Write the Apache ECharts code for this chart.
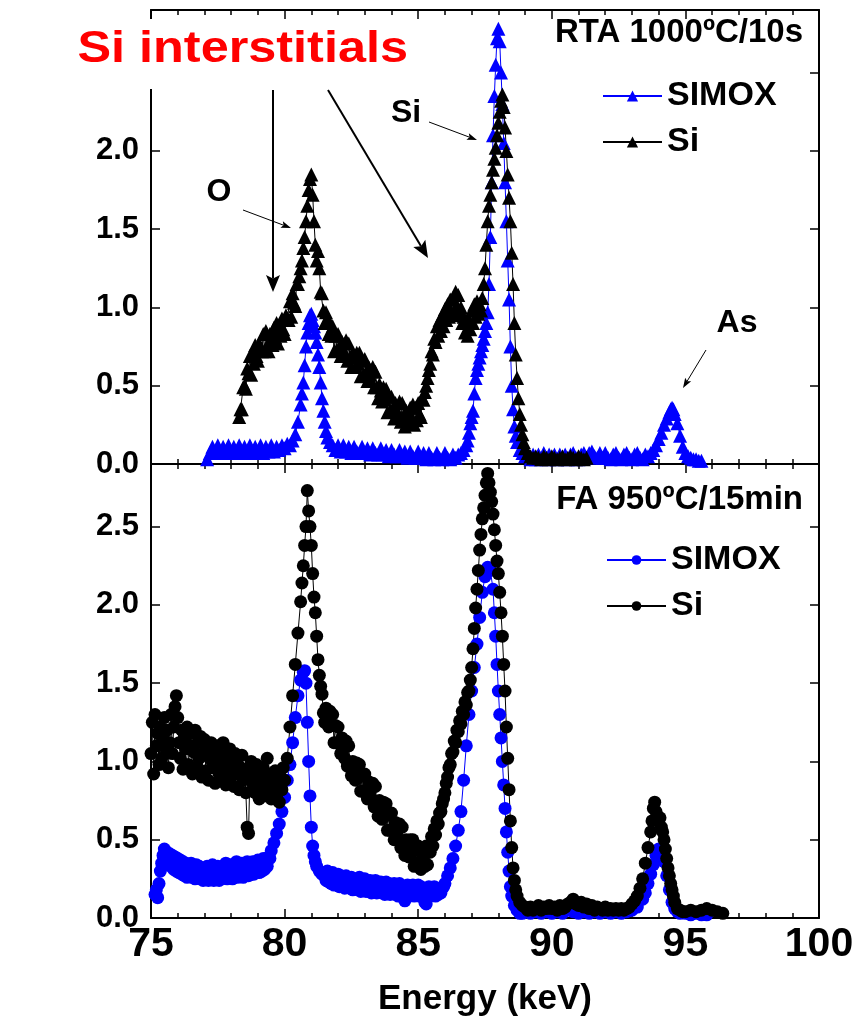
<!DOCTYPE html>
<html>
<head>
<meta charset="utf-8">
<script src="https://cdn.jsdelivr.net/npm/echarts@6/dist/echarts.min.js"></script>
<style>
html,body{margin:0;padding:0;background:#fff;}
#chart{width:861px;height:1016px;}
</style>
</head>
<body>
<div id="chart"></div>
<script>
// ---- data (energy keV, counts) ----
const seriesNames = ['SIMOX', 'Si'];
const panelTitles = ['RTA 1000ºC/10s', 'FA 950ºC/15min'];
const xTicks = [75, 80, 85, 90, 95, 100];

const rtaSimox = [
[77.1,.03],[77.2,.07],[77.3,.11],[77.4,.08],[77.5,.12],[77.6,.07],[77.7,.11],[77.8,.08],[77.9,.12],[78.0,.07],
[78.1,.11],[78.2,.08],[78.3,.12],[78.4,.07],[78.5,.11],[78.6,.08],[78.7,.12],[78.8,.07],[78.9,.11],[79.0,.08],
[79.1,.12],[79.2,.07],[79.3,.11],[79.4,.08],[79.5,.12],[79.6,.08],[79.7,.11],[79.8,.09],[79.9,.12],[80.0,.10],
[80.1,.13],[80.2,.12],[80.3,.15],[80.4,.19],[80.5,.27],[80.6,.38],[80.65,.45],[80.7,.52],[80.75,.63],[80.8,.75],
[80.85,.84],[80.9,.90],[80.95,.95],[81.0,.96],[81.05,.92],[81.1,.88],[81.15,.84],[81.2,.78],[81.25,.70],[81.3,.62],
[81.35,.52],[81.4,.42],[81.45,.34],[81.5,.27],[81.55,.21],[81.6,.17],[81.7,.14],[81.8,.12],[81.9,.09],[82.0,.12],
[82.1,.08],[82.2,.12],[82.3,.08],[82.4,.11],[82.5,.07],[82.6,.11],[82.7,.08],[82.8,.07],[82.9,.11],[83.0,.07],
[83.1,.10],[83.2,.06],[83.3,.10],[83.4,.07],[83.5,.06],[83.6,.10],[83.7,.06],[83.8,.09],[83.9,.05],[84.0,.09],
[84.1,.06],[84.2,.05],[84.3,.09],[84.4,.05],[84.5,.08],[84.6,.04],[84.7,.08],[84.8,.05],[84.9,.04],[85.0,.08],
[85.1,.04],[85.2,.07],[85.3,.03],[85.4,.07],[85.5,.04],[85.6,.03],[85.7,.07],[85.8,.04],[85.9,.03],[86.0,.07],
[86.1,.04],[86.2,.03],[86.3,.06],[86.4,.04],[86.5,.06],[86.6,.07],[86.7,.09],[86.8,.12],[86.85,.15],[86.9,.20],
[86.95,.26],[87.0,.30],[87.05,.34],[87.1,.45],[87.15,.55],[87.2,.60],[87.25,.64],[87.3,.68],[87.35,.72],[87.4,.76],
[87.45,.80],[87.5,.85],[87.55,.90],[87.6,.97],[87.65,1.15],[87.7,1.45],[87.75,1.80],[87.8,2.10],[87.85,2.35],[87.9,2.55],
[87.95,2.72],[88.0,2.78],[88.05,2.70],[88.1,2.50],[88.15,2.30],[88.2,2.05],[88.25,1.80],[88.3,1.55],[88.35,1.30],[88.4,1.05],
[88.45,.75],[88.5,.50],[88.55,.35],[88.6,.24],[88.65,.18],[88.7,.14],[88.8,.09],[88.9,.07],[89.0,.05],[89.1,.06],
[89.2,.03],[89.3,.06],[89.4,.03],[89.5,.06],[89.6,.04],[89.7,.07],[89.8,.03],[89.9,.06],[90.0,.04],[90.1,.06],
[90.2,.03],[90.3,.06],[90.4,.04],[90.5,.06],[90.6,.03],[90.7,.06],[90.8,.07],[90.9,.04],[91.0,.03],[91.1,.06],
[91.2,.07],[91.3,.04],[91.4,.07],[91.5,.08],[91.6,.05],[91.7,.04],[91.8,.07],[91.9,.04],[92.0,.07],[92.1,.04],
[92.2,.03],[92.3,.06],[92.4,.07],[92.5,.04],[92.6,.03],[92.7,.06],[92.8,.07],[92.9,.04],[93.0,.03],[93.1,.06],
[93.2,.07],[93.3,.04],[93.4,.03],[93.5,.06],[93.6,.05],[93.7,.07],[93.8,.09],[93.9,.12],[94.0,.16],[94.1,.20],
[94.2,.25],[94.3,.29],[94.4,.33],[94.45,.35],[94.5,.36],[94.55,.35],[94.6,.32],[94.7,.26],[94.8,.18],[94.9,.11],
[95.0,.07],[95.1,.05],[95.2,.04],[95.3,.03],[95.4,.03],[95.5,.02],[95.6,.02]
];

const rtaSi = [
[78.30,.30],[78.35,.35],[78.40,.35],[78.45,.49],[78.50,.50],[78.55,.48],[78.60,.61],[78.65,.58],[78.70,.69],[78.75,.57],
[78.80,.70],[78.85,.64],[78.90,.76],[78.95,.69],[79.00,.66],[79.05,.77],[79.10,.74],[79.15,.72],[79.20,.83],[79.25,.72],
[79.30,.85],[79.35,.76],[79.40,.72],[79.45,.83],[79.50,.80],[79.55,.76],[79.60,.87],[79.65,.81],[79.70,.90],[79.75,.77],
[79.80,.89],[79.85,.82],[79.90,.93],[79.95,.86],[80.00,.83],[80.05,.95],[80.10,.93],[80.15,.92],[80.20,1.04],[80.25,.94],
[80.30,1.09],[80.35,1.03],[80.40,1.01],[80.45,1.15],[80.50,1.15],[80.55,1.20],[80.6,1.25],[80.65,1.30],[80.7,1.38],[80.75,1.45],
[80.8,1.55],[80.85,1.65],[80.9,1.75],[80.95,1.82],[81.0,1.85],[81.05,1.72],[81.1,1.55],[81.15,1.40],[81.2,1.30],[81.25,1.36],
[81.3,1.25],[81.35,1.10],
[81.40,1.09],[81.45,.98],[81.50,.90],[81.55,.97],[81.60,.91],[81.65,.83],[81.70,.90],[81.75,.82],[81.80,.88],[81.85,.72],
[81.90,.82],[81.95,.73],[82.00,.83],[82.05,.74],[82.10,.69],[82.15,.78],[82.20,.73],[82.25,.69],[82.30,.79],[82.35,.66],
[82.40,.77],[82.45,.68],[82.50,.62],[82.55,.71],[82.60,.68],[82.65,.62],[82.70,.71],[82.75,.64],[82.80,.71],[82.85,.56],
[82.90,.66],[82.95,.57],[83.00,.67],[83.05,.58],[83.10,.53],[83.15,.62],[83.20,.57],[83.25,.53],[83.30,.62],[83.35,.49],
[83.40,.59],[83.45,.49],[83.50,.42],[83.55,.51],[83.60,.47],[83.65,.40],[83.70,.49],[83.75,.41],[83.80,.48],[83.85,.33],
[83.90,.43],[83.95,.34],[84.00,.43],[84.05,.34],[84.10,.29],[84.15,.39],[84.20,.34],[84.25,.30],[84.30,.40],[84.35,.27],
[84.40,.39],[84.45,.30],[84.50,.24],[84.55,.34],[84.60,.31],[84.65,.26],[84.70,.36],[84.75,.30],[84.80,.38],[84.85,.25],
[84.90,.36],[84.95,.28],[85.00,.39],[85.05,.32],[85.10,.30],[85.15,.42],[85.20,.41],[85.25,.46],[85.30,.50],[85.35,.55],
[85.40,.60],[85.45,.64],[85.50,.72],[85.55,.70],[85.60,.80],[85.65,.78],[85.70,.88],[85.75,.82],[85.80,.92],[85.85,.85],
[85.90,.95],[85.95,.88],[86.00,.99],[86.05,.92],[86.10,1.02],[86.15,.94],[86.20,1.05],[86.25,.96],[86.30,1.06],[86.35,.98],
[86.40,1.10],[86.45,1.00],[86.50,1.08],[86.55,.95],[86.60,1.00],[86.65,.90],[86.70,.94],[86.75,.84],[86.80,.90],[86.85,.82],
[86.90,.92],[86.95,.86],[87.00,.98],[87.05,.90],[87.10,1.02],[87.15,.94],[87.20,1.04],[87.25,.96],[87.30,1.02],[87.35,.98],
[87.40,1.06],[87.45,1.15],[87.5,1.25],[87.55,1.40],[87.6,1.55],[87.65,1.65],[87.7,1.72],[87.75,1.80],[87.8,1.88],[87.85,1.95],
[87.9,2.02],[87.95,2.10],[88.0,2.18],[88.05,2.25],[88.1,2.32],[88.15,2.36],[88.2,2.28],[88.25,2.15],[88.3,2.00],[88.35,1.85],
[88.4,1.70],[88.45,1.55],[88.5,1.35],[88.55,1.15],[88.6,.90],[88.65,.70],[88.7,.55],[88.75,.42],[88.8,.32],[88.85,.25],
[88.9,.19],[88.95,.14],[89.0,.10],[89.1,.07],[89.2,.05],[89.3,.04],[89.4,.05],[89.5,.04],[89.6,.03],[89.7,.05],
[89.8,.04],[89.9,.03],[90.0,.05],[90.1,.04],[90.2,.03],[90.3,.04],[90.4,.05],[90.5,.03],[90.6,.04],[90.7,.05],
[90.8,.04],[90.9,.03],[91.0,.05],[91.1,.04],[91.2,.03],[91.3,.04]
];

const faSimox = [
[75.15,.15],[75.20,.18],[75.25,.13],[75.30,.22],[75.35,.30],[75.40,.35],[75.45,.40],[75.50,.44],[75.55,.36],[75.60,.42],
[75.65,.34],[75.70,.41],[75.75,.33],[75.80,.40],[75.85,.31],[75.90,.39],[75.95,.30],[76.00,.38],[76.05,.29],[76.10,.37],
[76.15,.28],[76.20,.36],[76.25,.27],[76.30,.35],[76.35,.26],[76.40,.34],[76.45,.27],[76.50,.35],[76.55,.26],[76.60,.33],
[76.65,.25],[76.70,.34],[76.75,.26],[76.80,.33],[76.85,.25],[76.90,.32],[76.95,.24],[77.00,.31],[77.05,.25],[77.10,.33],
[77.15,.24],[77.20,.31],[77.25,.25],[77.30,.34],[77.35,.24],[77.40,.32],[77.45,.25],[77.50,.33],[77.55,.24],[77.60,.31],
[77.65,.25],[77.70,.33],[77.75,.26],[77.80,.35],[77.85,.25],[77.90,.32],[77.95,.26],[78.00,.34],[78.05,.25],[78.10,.33],
[78.15,.27],[78.20,.36],[78.25,.26],[78.30,.33],[78.35,.27],[78.40,.35],[78.45,.26],[78.50,.34],[78.55,.28],[78.60,.36],
[78.65,.27],[78.70,.34],[78.75,.28],[78.80,.36],[78.85,.28],[78.90,.35],[78.95,.29],[79.00,.37],[79.05,.29],[79.10,.36],
[79.15,.30],[79.20,.38],[79.25,.31],[79.30,.37],[79.35,.33],[79.40,.39],[79.45,.38],[79.50,.43],[79.6,.48],[79.7,.54],
[79.8,.60],[79.9,.68],[80.0,.77],[80.1,.88],[80.2,.98],[80.3,1.12],[80.4,1.28],[80.5,1.42],[80.6,1.52],[80.7,1.57],
[80.75,1.58],[80.8,1.50],[80.85,1.25],[80.9,1.00],[80.95,.78],[81.0,.58],[81.05,.46],[81.1,.40],[81.15,.36],[81.2,.33],
[81.3,.30],[81.4,.28],
[81.50,.29],[81.55,.24],[81.60,.30],[81.65,.23],[81.70,.28],[81.75,.22],[81.80,.29],[81.85,.21],[81.90,.27],[81.95,.22],
[82.00,.28],[82.05,.20],[82.10,.27],[82.15,.21],[82.20,.26],[82.25,.19],[82.30,.27],[82.35,.20],[82.40,.25],[82.45,.19],
[82.50,.26],[82.55,.18],[82.60,.25],[82.65,.19],[82.70,.24],[82.75,.18],[82.80,.26],[82.85,.17],[82.90,.24],[82.95,.18],
[83.00,.25],[83.05,.17],[83.10,.23],[83.15,.18],[83.20,.24],[83.25,.16],[83.30,.23],[83.35,.17],[83.40,.24],[83.45,.16],
[83.50,.22],[83.55,.17],[83.60,.23],[83.65,.16],[83.70,.22],[83.75,.15],[83.80,.23],[83.85,.16],[83.90,.22],[83.95,.15],
[84.00,.21],[84.05,.16],[84.10,.22],[84.15,.15],[84.20,.21],[84.25,.14],[84.30,.22],[84.35,.15],[84.40,.20],[84.45,.14],
[84.50,.11],[84.55,.15],[84.60,.21],[84.65,.14],[84.70,.20],[84.75,.15],[84.80,.21],[84.85,.14],[84.90,.20],[84.95,.15],
[85.00,.21],[85.05,.14],[85.10,.20],[85.15,.15],[85.20,.19],[85.25,.10],[85.30,.09],[85.35,.15],[85.40,.20],[85.45,.14],
[85.50,.19],[85.55,.15],[85.60,.20],[85.65,.14],[85.70,.19],[85.75,.15],[85.80,.18],[85.85,.16],[85.90,.19],[85.95,.20],
[86.0,.22],[86.1,.27],[86.2,.32],[86.3,.38],[86.4,.46],[86.5,.56],[86.6,.68],[86.7,.88],[86.8,1.10],[86.9,1.30],
[87.0,1.45],[87.1,1.60],[87.2,1.75],[87.3,1.92],[87.4,2.08],[87.5,2.18],[87.6,2.24],[87.7,2.22],[87.8,2.10],[87.85,1.95],
[87.9,1.80],[87.95,1.62],[88.0,1.45],[88.05,1.30],[88.1,1.15],[88.15,1.00],[88.2,.85],[88.25,.70],[88.3,.55],[88.35,.42],
[88.4,.30],[88.45,.20],[88.5,.14],[88.6,.08],[88.7,.05],[88.8,.03],[88.9,.03],[89.0,.04],[89.2,.03],[89.4,.04],
[89.6,.03],[89.8,.04],[90.0,.03],[90.2,.04],[90.4,.03],[90.6,.05],[90.8,.04],[91.0,.03],[91.2,.04],[91.4,.03],
[91.6,.04],[91.8,.03],[92.0,.04],[92.2,.03],[92.4,.04],[92.6,.03],[92.8,.04],[93.0,.05],[93.2,.07],[93.4,.12],
[93.5,.16],[93.6,.22],[93.7,.28],[93.8,.34],[93.9,.40],[94.0,.44],[94.1,.42],[94.2,.36],[94.3,.27],[94.4,.18],
[94.5,.10],[94.6,.06],[94.7,.04],[94.8,.03],[95.0,.03],[95.2,.02],[95.4,.03],[95.6,.02],[95.8,.02]
];

const faSi = [
[75.00,1.05],[75.05,1.25],[75.10,.92],[75.15,1.30],[75.20,1.10],[75.25,1.18],[75.30,.98],[75.35,1.22],[75.40,1.02],[75.45,1.15],
[75.50,1.28],[75.55,1.08],[75.60,1.20],[75.65,.96],[75.70,1.12],[75.75,1.30],[75.80,1.05],[75.85,1.22],[75.90,1.35],[75.95,1.42],
[76.00,1.28],[76.05,1.12],[76.10,1.02],[76.15,1.20],[76.20,.95],[76.25,1.15],[76.30,1.08],[76.35,1.22],[76.40,.98],[76.45,1.10],
[76.50,1.18],[76.55,.92],[76.60,1.06],[76.65,1.20],[76.70,.96],[76.75,1.12],[76.80,1.02],[76.85,1.16],[76.90,.90],[76.95,1.05],
[77.00,1.14],[77.05,.94],[77.10,1.08],[77.15,.88],[77.20,1.02],[77.25,1.12],[77.30,.96],[77.35,1.06],[77.40,.86],[77.45,1.00],
[77.50,1.10],[77.55,.92],[77.60,1.04],[77.65,.88],[77.70,1.12],[77.75,.98],[77.80,.85],[77.85,1.02],[77.90,.94],[77.95,1.08],
[78.00,.90],[78.05,1.00],[78.10,.84],[78.15,1.05],[78.20,.92],[78.25,.98],[78.30,.82],[78.35,.96],[78.40,1.04],[78.45,.88],
[78.50,.95],[78.55,.80],[78.60,.58],[78.65,.54],[78.70,.90],[78.75,1.00],[78.80,.86],[78.85,.94],[78.90,.80],[78.95,.98],
[79.00,.88],[79.05,.76],[79.10,.92],[79.15,.84],[79.20,.96],[79.25,.78],[79.30,.90],[79.35,1.02],[79.40,.84],[79.45,.92],
[79.50,.76],[79.55,.88],[79.60,.82],[79.65,.94],[79.70,.78],[79.75,.86],[79.80,.74],[79.85,.90],[79.90,.82],[79.95,.96],
[80.00,.88],[80.1,1.02],[80.2,1.22],[80.3,1.42],[80.4,1.62],[80.5,1.82],[80.6,2.02],[80.65,2.14],[80.7,2.25],[80.75,2.38],
[80.8,2.50],[80.85,2.73],[80.9,2.60],[80.95,2.50],[81.0,2.38],[81.05,2.20],[81.1,2.05],[81.15,1.95],[81.2,1.80],[81.25,1.65],
[81.3,1.55],[81.35,1.48],
[81.40,1.43],[81.45,1.31],[81.50,1.25],[81.55,1.34],[81.60,1.30],[81.65,1.22],[81.70,1.32],[81.75,1.23],[81.80,1.30],[81.85,1.12],
[81.90,1.23],[81.95,1.12],[82.00,1.22],[82.05,1.11],[82.10,1.05],[82.15,1.15],[82.20,1.08],[82.25,1.02],[82.30,1.13],[82.35,.97],
[82.40,1.10],[82.45,.97],[82.50,.91],[82.55,1.00],[82.60,.96],[82.65,.88],[82.70,.99],[82.75,.90],[82.80,.98],[82.85,.81],
[82.90,.91],[82.95,.81],[83.00,.92],[83.05,.82],[83.10,.76],[83.15,.87],[83.20,.81],[83.25,.76],[83.30,.86],[83.35,.71],
[83.40,.84],[83.45,.72],[83.50,.65],[83.55,.75],[83.60,.71],[83.65,.63],[83.70,.74],[83.75,.65],[83.80,.73],[83.85,.56],
[83.90,.66],[83.95,.56],[84.00,.67],[84.05,.57],[84.10,.50],[84.15,.61],[84.20,.55],[84.25,.50],[84.30,.60],[84.35,.45],
[84.40,.58],[84.45,.46],[84.50,.40],[84.55,.50],[84.60,.46],[84.65,.39],[84.70,.50],[84.75,.42],[84.80,.50],[84.85,.33],
[84.90,.44],[84.95,.35],[85.00,.46],[85.05,.36],[85.10,.31],[85.15,.42],[85.20,.37],[85.25,.33],[85.30,.46],[85.35,.34],
[85.40,.45],[85.45,.42],[85.50,.52],[85.55,.46],[85.60,.57],[85.65,.53],[85.70,.62],[85.75,.60],[85.80,.67],[85.85,.68],
[85.90,.73],[85.95,.76],[86.00,.80],[86.05,.86],[86.10,.90],[86.15,.96],[86.20,.98],[86.25,1.05],[86.30,1.06],[86.35,1.13],
[86.40,1.12],[86.45,1.20],[86.50,1.19],[86.55,1.26],[86.60,1.24],[86.65,1.32],[86.70,1.30],[86.75,1.38],[86.80,1.36],[86.85,1.44],
[86.90,1.45],[86.95,1.52],[87.0,1.60],[87.05,1.72],[87.1,1.85],[87.15,1.98],[87.2,2.10],[87.25,2.22],[87.3,2.35],[87.35,2.45],
[87.4,2.55],[87.45,2.62],[87.5,2.70],[87.55,2.78],[87.6,2.84],[87.65,2.78],[87.7,2.72],[87.75,2.66],[87.8,2.58],[87.85,2.48],
[87.9,2.38],[87.95,2.28],[88.0,2.20],[88.05,2.08],[88.1,1.95],[88.15,1.80],[88.2,1.62],[88.25,1.45],[88.3,1.22],[88.35,1.02],
[88.4,.82],[88.45,.62],[88.5,.45],[88.55,.32],[88.6,.24],[88.65,.18],[88.7,.14],[88.8,.10],[88.9,.08],[89.0,.07],
[89.1,.05],[89.2,.07],[89.3,.05],[89.4,.06],[89.5,.08],[89.6,.05],[89.7,.07],[89.8,.06],[89.9,.08],[90.0,.06],
[90.1,.07],[90.2,.05],[90.3,.08],[90.4,.06],[90.5,.07],[90.6,.09],[90.7,.10],[90.8,.12],[90.9,.09],[91.0,.08],
[91.1,.10],[91.2,.07],[91.3,.09],[91.4,.06],[91.5,.08],[91.6,.05],[91.7,.07],[91.8,.06],[91.9,.05],[92.0,.07],
[92.1,.05],[92.2,.06],[92.3,.05],[92.4,.06],[92.5,.05],[92.6,.06],[92.7,.05],[92.8,.06],[92.9,.07],[93.0,.09],
[93.1,.11],[93.2,.14],[93.3,.19],[93.4,.25],[93.5,.35],[93.6,.45],[93.7,.55],[93.75,.62],[93.8,.70],[93.85,.74],
[93.9,.68],[94.0,.62],[94.05,.64],[94.1,.58],[94.15,.55],[94.2,.50],[94.25,.44],[94.3,.38],[94.35,.32],[94.4,.27],
[94.45,.22],[94.5,.18],[94.55,.14],[94.6,.10],[94.7,.06],[94.8,.05],[94.9,.04],[95.0,.04],[95.2,.05],[95.4,.04],
[95.6,.05],[95.8,.06],[96.0,.05],[96.2,.04],[96.4,.03]
];

// ---- styling ----
const BLUE = '#0000ff';
const BLACK = '#000000';
const SANS = '"Liberation Sans", Arial, sans-serif';

const chart = echarts.init(document.getElementById('chart'), null, {renderer: 'canvas'});

function xAx(grid, pos, showLabel) {
  return {
    type: 'value', gridIndex: grid, position: pos, min: 75, max: 100, interval: 5,
    axisLine: {show: true, onZero: false, lineStyle: {color: BLACK, width: 2}},
    axisTick: {show: true, inside: true, length: 9, lineStyle: {color: BLACK, width: 1.5}},
    minorTick: {show: true, splitNumber: 5, length: 5, lineStyle: {color: BLACK, width: 1.5}},
    splitLine: {show: false},
    axisLabel: {show: showLabel, margin: 6, verticalAlign: 'top', color: BLACK, fontFamily: SANS, fontWeight: 'bold', fontSize: 41,
      formatter: v => xTicks.indexOf(v) >= 0 ? String(v) : ''},
    name: showLabel ? 'Energy (keV)' : '',
    nameLocation: 'middle', nameGap: 64,
    nameTextStyle: {color: BLACK, fontFamily: SANS, fontWeight: 'bold', fontSize: 35, verticalAlign: 'top'}
  };
}
function yAx(grid, pos, showLabel) {
  return {
    type: 'value', gridIndex: grid, position: pos, min: 0, max: 2.9, interval: 0.5,
    axisLine: {show: true, onZero: false, lineStyle: {color: BLACK, width: 2}},
    axisTick: {show: true, inside: true, length: 9, lineStyle: {color: BLACK, width: 1.5}},
    splitLine: {show: false},
    axisLabel: {show: showLabel, showMaxLabel: false, margin: 12, color: BLACK, fontFamily: SANS,
      fontWeight: 'bold', fontSize: 31, formatter: v => v.toFixed(1)}
  };
}

function mkSeries(name, data, color, symbol, size, xi, yi) {
  return {
    name: name, type: 'line', data: data, xAxisIndex: xi, yAxisIndex: yi,
    symbol: symbol, symbolSize: size, showSymbol: true, showAllSymbol: true,
    lineStyle: {color: color, width: 1}, itemStyle: {color: color, borderWidth: 0},
    emphasis: {disabled: true}, animation: false, clip: true, z: 2
  };
}

function arrow(x1, y1, x2, y2, lw, hl, hw) {
  const dx = x2 - x1, dy = y2 - y1, L = Math.hypot(dx, dy);
  const ux = dx / L, uy = dy / L, px = -uy, py = ux;
  const bx = x2 - ux * hl, by = y2 - uy * hl;
  const nx = x2 - ux * hl * 0.8, ny = y2 - uy * hl * 0.8;
  return [
    {type: 'line', z: 100, shape: {x1: x1, y1: y1, x2: nx, y2: ny}, style: {stroke: BLACK, lineWidth: lw}},
    {type: 'polygon', z: 100, shape: {points: [[x2, y2], [bx + px * hw / 2, by + py * hw / 2], [nx, ny], [bx - px * hw / 2, by - py * hw / 2]]},
      style: {fill: BLACK}}
  ];
}

const legendName = n => n.replace(/ \(.*\)$/, '');

const option = {
  backgroundColor: '#ffffff',
  animation: false,
  grid: [
    {left: 151, top: 10, width: 668, height: 454, containLabel: false, outerBoundsMode: 'none'},
    {left: 151, top: 464, width: 668, height: 454, containLabel: false, outerBoundsMode: 'none'}
  ],
  xAxis: [xAx(0, 'bottom', false), xAx(0, 'top', false), xAx(1, 'bottom', true), xAx(1, 'top', false)],
  yAxis: [yAx(0, 'left', true), yAx(0, 'right', false), yAx(1, 'left', true), yAx(1, 'right', false)],
  legend: [
    {data: [seriesNames[0] + ' (RTA)', seriesNames[1] + ' (RTA)'], orient: 'vertical', left: 602, top: 79,
      padding: 0, itemWidth: 59, itemHeight: 14, itemGap: 12, selectedMode: false, formatter: legendName,
      textStyle: {color: BLACK, fontFamily: SANS, fontWeight: 'bold', fontSize: 34}},
    {data: [seriesNames[0] + ' (FA)', seriesNames[1] + ' (FA)'], orient: 'vertical', left: 606, top: 543,
      padding: 0, itemWidth: 59, itemHeight: 12, itemGap: 12, selectedMode: false, formatter: legendName,
      textStyle: {color: BLACK, fontFamily: SANS, fontWeight: 'bold', fontSize: 34}}
  ],
  series: [
    mkSeries(seriesNames[0] + ' (RTA)', rtaSimox, BLUE, 'triangle', 14, 0, 0),
    mkSeries(seriesNames[1] + ' (RTA)', rtaSi, BLACK, 'triangle', 14, 0, 0),
    mkSeries(seriesNames[0] + ' (FA)', faSimox, BLUE, 'circle', 13, 2, 2),
    mkSeries(seriesNames[1] + ' (FA)', faSi, BLACK, 'circle', 13, 2, 2)
  ],
  graphic: [].concat(
    [
      {type: 'rect', z: 90, shape: {x: 60, y: 19, width: 368, height: 70}, style: {fill: '#ffffff'}},
      {type: 'text', z: 100, x: 88, y: 72, scaleX: 1.12, originX: 88, originY: 72,
        style: {text: 'Si interstitials', fill: '#ff0000', font: 'bold 45px ' + SANS, textAlign: 'left', textVerticalAlign: 'bottom'}},
      {type: 'text', z: 100, x: 803, y: 33,
        style: {text: panelTitles[0], fill: BLACK, font: 'bold 33px ' + SANS, textAlign: 'right', textVerticalAlign: 'middle'}},
      {type: 'text', z: 100, x: 803, y: 500,
        style: {text: panelTitles[1], fill: BLACK, font: 'bold 33px ' + SANS, textAlign: 'right', textVerticalAlign: 'middle'}},
      {type: 'text', z: 100, x: 219, y: 192,
        style: {text: 'O', fill: BLACK, font: 'bold 32px ' + SANS, textAlign: 'center', textVerticalAlign: 'middle'}},
      {type: 'text', z: 100, x: 406, y: 113,
        style: {text: 'Si', fill: BLACK, font: 'bold 32px ' + SANS, textAlign: 'center', textVerticalAlign: 'middle'}},
      {type: 'text', z: 100, x: 737, y: 323,
        style: {text: 'As', fill: BLACK, font: 'bold 32px ' + SANS, textAlign: 'center', textVerticalAlign: 'middle'}},
      {type: 'text', z: 100, x: 32, y: 464, rotation: Math.PI / 2, originX: 32, originY: 464,
        style: {text: 'Counts', fill: BLACK, font: 'bold 36px ' + SANS, textAlign: 'center', textVerticalAlign: 'middle'}}
    ],
    arrow(273, 90, 273, 292, 2, 17, 14),
    arrow(328, 90, 428, 258, 2, 17, 14),
    arrow(243, 210, 291, 228, 1, 10, 7),
    arrow(429, 122, 477, 140, 1, 10, 7),
    arrow(706, 350, 683, 388, 1, 10, 7)
  )
};
chart.setOption(option);
</script>
</body>
</html>
